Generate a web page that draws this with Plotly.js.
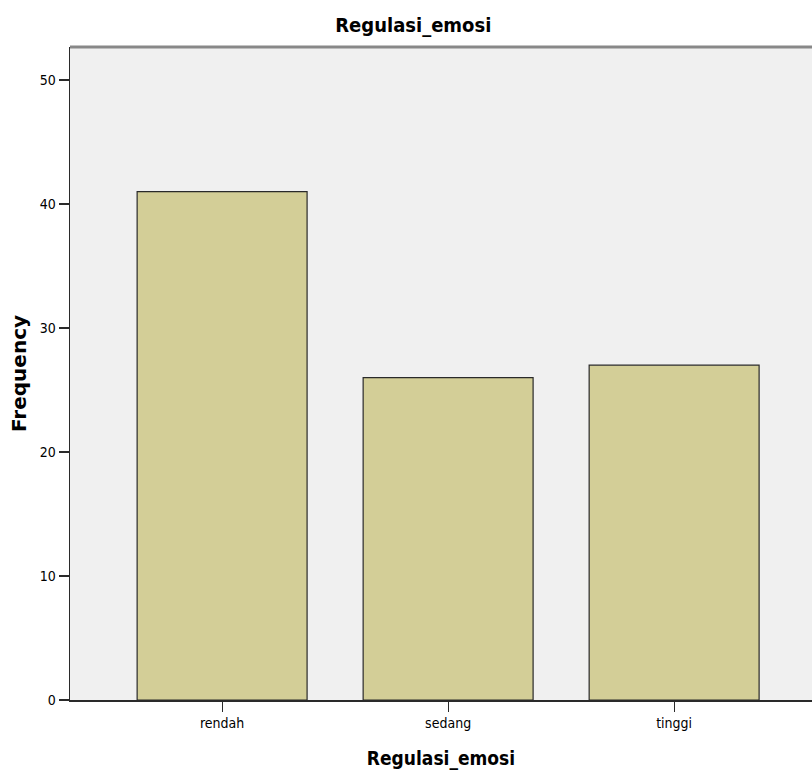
<!DOCTYPE html>
<html>
<head>
<meta charset="utf-8">
<script src="https://cdn.plot.ly/plotly-3.0.1.min.js"></script>
<style>html,body{margin:0;padding:0;background:#fff;}#chart{width:812px;height:773px;}</style>
</head>
<body>
<div id="chart"></div>
<script>
const categories = ["rendah", "sedang", "tinggi"];
const frequency = [41, 26, 27];
const yTicks = [0, 10, 20, 30, 40, 50];

const font = "DejaVu Sans Condensed, Liberation Sans Narrow, Arial Narrow, Liberation Sans, sans-serif";

const data = [{
  type: "bar",
  x: categories,
  y: frequency,
  width: 0.752,
  marker: {color: "#d3ce97", line: {color: "#2a2a2a", width: 1.2}},
  hoverinfo: "x+y"
}];

const layout = {
  width: 812, height: 773,
  margin: {l: 70, r: 0, t: 47, b: 73},
  paper_bgcolor: "#ffffff",
  plot_bgcolor: "#f0f0f0",
  showlegend: false,
  title: {
    text: "<b>Regulasi_emosi</b>",
    font: {family: font, size: 20, color: "#000"},
    xref: "container", x: 0.509, xanchor: "center",
    yref: "container", y: 0.968, yanchor: "middle"
  },
  xaxis: {
    type: "category",
    range: [-0.673, 2.61],
    showgrid: false,
    showline: true, linecolor: "#2a2a2a", linewidth: 1.5,
    ticks: "outside", ticklen: 10, tickcolor: "#2a2a2a", tickwidth: 1,
    tickfont: {family: font, size: 14, color: "#000"},
    title: {text: "<b>Regulasi_emosi</b>", font: {family: font, size: 19, color: "#000"}, standoff: 21},
    zeroline: false, fixedrange: true
  },
  yaxis: {
    range: [0, 52.66],
    tickvals: yTicks,
    showgrid: false,
    showline: true, linecolor: "#2a2a2a", linewidth: 1.5,
    ticks: "outside", ticklen: 10, tickcolor: "#2a2a2a", tickwidth: 1.5,
    tickfont: {family: font, size: 14, color: "#000"},
    title: {text: "<b>Frequency</b>", font: {family: "DejaVu Sans, Liberation Sans, sans-serif", size: 20, color: "#000"}, standoff: 7},
    zeroline: false, fixedrange: true
  },
  shapes: [{
    type: "line", xref: "paper", yref: "paper", x0: 0, x1: 1, y0: 1, y1: 1,
    line: {color: "#888888", width: 3}
  }]
};

Plotly.newPlot("chart", data, layout, {displayModeBar: false, staticPlot: true});
</script>
</body>
</html>
